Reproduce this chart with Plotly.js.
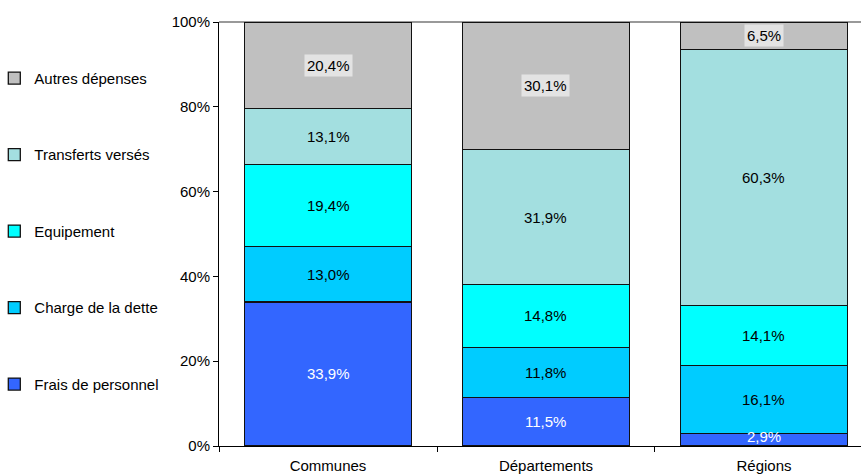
<!DOCTYPE html>
<html>
<head>
<meta charset="utf-8">
<script src="https://cdn.plot.ly/plotly-3.0.1.min.js"></script>
<style>html,body{margin:0;padding:0;background:#fff;}#chart{width:861px;height:475px;}</style>
</head>
<body>
<div id="chart"></div>
<script>
const categories = ["Communes", "Départements", "Régions"];
const seriesNames = ["Frais de personnel", "Charge de la dette", "Equipement", "Transferts versés", "Autres dépenses"];
const fraisPersonnel = [33.9, 11.5, 2.9];
const chargeDette = [13.0, 11.8, 16.1];
const equipement = [19.4, 14.8, 14.1];
const transferts = [13.1, 31.9, 60.3];
const autres = [20.4, 30.1, 6.5];
const yTickVals = [0, 20, 40, 60, 80, 100];
const yTickText = ["0%", "20%", "40%", "60%", "80%", "100%"];

const seriesValues = [fraisPersonnel, chargeDette, equipement, transferts, autres];
const colors = ["#3366FF", "#00CCFF", "#00FFFF", "#A3DFE0", "#C0C0C0"];
const textColors = ["#ffffff", "#000000", "#000000", "#000000", "#000000"];
const labelBg = [null, null, null, null, "#E3E3E3"];
const FONT = "Liberation Sans, Arial, sans-serif";
const FS = 15;

const traces = seriesValues.map((vals, i) => ({
  type: "bar",
  name: seriesNames[i],
  x: categories,
  y: vals,
  legendgroup: "g" + i,
  legendrank: 100 - i,
  marker: { color: colors[i], line: { color: "#111", width: 1.3 } },
  hoverinfo: "skip"
}));

const totals = categories.map((c, j) => seriesValues.reduce((s, v) => s + v[j], 0));
const annotations = [];
categories.forEach((c, j) => {
  let base = 0;
  seriesValues.forEach((vals, i) => {
    const h = vals[j] / totals[j] * 100;
    const ann = {
      x: c, y: base + h / 2, xref: "x", yref: "y",
      text: vals[j].toFixed(1).replace(".", ",") + "%",
      showarrow: false,
      font: { family: FONT, size: FS, color: textColors[i] },
      borderpad: 2
    };
    if (labelBg[i]) ann.bgcolor = labelBg[i];
    if (h < 5) ann.yshift = 3;
    annotations.push(ann);
    base += h;
  });
});

const layout = {
  width: 861, height: 475,
  margin: { l: 219, r: 0, t: 22, b: 29, pad: 0, autoexpand: false },
  paper_bgcolor: "#fff", plot_bgcolor: "#fff",
  barmode: "stack", barnorm: "percent", bargap: 0.234,
  font: { family: FONT, size: FS, color: "#000" },
  showlegend: true,
  legend: {
    x: -0.350, xanchor: "left", y: 0.906, yanchor: "top",
    traceorder: "grouped", tracegroupgap: 54,
    font: { family: FONT, size: FS, color: "#000" },
    itemwidth: 30, bgcolor: "rgba(0,0,0,0)"
  },
  xaxis: {
    range: [-0.5, 2.445], type: "category",
    showline: true, linecolor: "#000", linewidth: 1,
    ticks: "outside", tickson: "boundaries", ticklen: 5, tickcolor: "#000",
    ticklabelstandoff: 6,
    showgrid: false, zeroline: false, fixedrange: true,
    tickfont: { family: FONT, size: FS, color: "#000" }
  },
  yaxis: {
    range: [0, 100], tickvals: yTickVals, ticktext: yTickText,
    showline: true, linecolor: "#000", linewidth: 1,
    ticks: "outside", ticklen: 5, tickcolor: "#000",
    showgrid: false, zeroline: false, fixedrange: true,
    tickfont: { family: FONT, size: FS, color: "#000" }
  },
  shapes: [
    { type: "line", xref: "paper", yref: "paper", x0: 0, x1: 1, y0: 1, y1: 1,
      line: { color: "#999", width: 2 }, layer: "below" }
  ],
  annotations: annotations
};

Plotly.newPlot("chart", traces, layout, { displayModeBar: false, staticPlot: true });
</script>
</body>
</html>
